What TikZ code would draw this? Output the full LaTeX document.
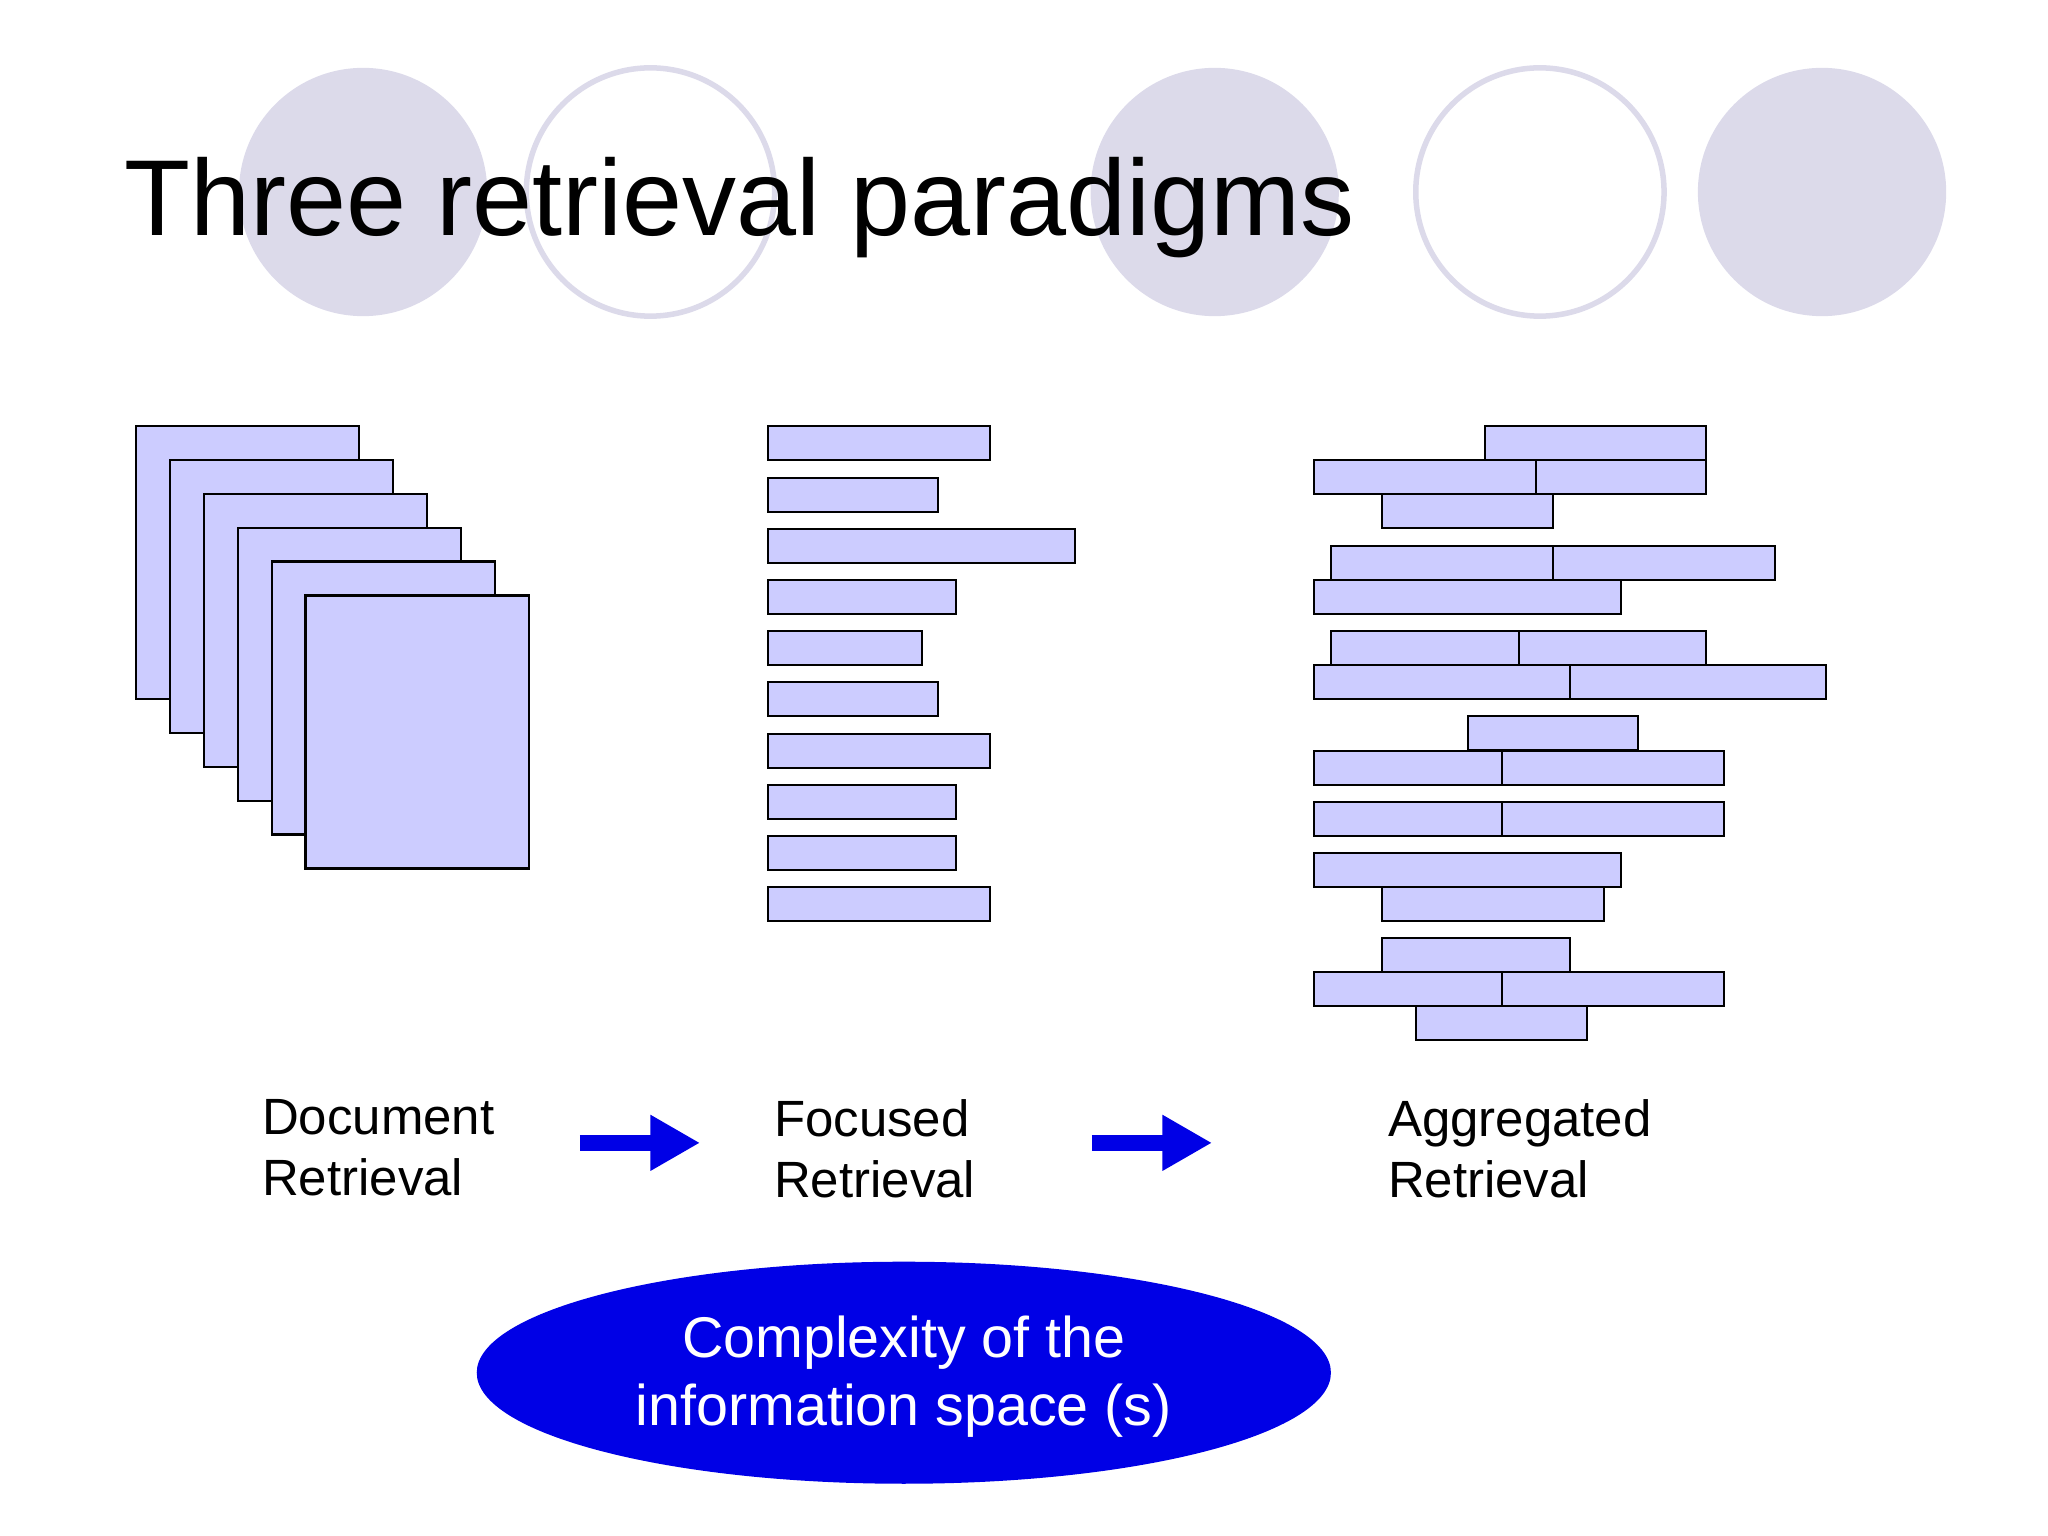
\documentclass[tikz,border=0pt]{standalone}
\usepackage{fontspec}
\setmainfont{Liberation Sans}
\usetikzlibrary{arrows.meta, positioning}
\definecolor{ringfill}{HTML}{DCDAEA}
\definecolor{barfill}{HTML}{CCCCFF}
\definecolor{deepblue}{HTML}{0000E6}

\begin{document}
\begin{tikzpicture}[
    x=0.01cm, y=-0.01cm,
    ring/.style={circle, minimum size=1.9cm, inner sep=0pt},
    fullring/.style={ring, fill=ringfill},
    openring/.style={ring, draw=ringfill, line width=1.2pt, fill=white},
    bar/.style={draw=black, fill=barfill, line width=0.5pt},
    label/.style={align=left, anchor=north west, font=\fontsize{11.1}{13.4}\selectfont, inner sep=0pt},
    flow/.style={draw=deepblue, line width=3.4pt, -{Triangle[length=10.8pt, width=11.4pt]}}
]
    \useasboundingbox (0,0) rectangle (1568,1176);

    % Header rings
    \node[fullring] (r1) at (278,147) {};
    \node[openring] (r2) at (498,147) {};
    \node[fullring] (r3) at (930,147) {};
    \node[openring] (r4) at (1179,147) {};
    \node[fullring] (r5) at (1395,147) {};

    % Title
    \node[anchor=base west, inner sep=0pt, font=\fontsize{23.5}{28}\selectfont] (title) at (95,180) {Three retrieval paradigms};

    % Document stack
    \foreach \i in {0,...,5}
        \draw[bar] (104+26*\i,326+26*\i) rectangle ++(171,209);

    % Focused bars
    \foreach \y/\r in {326/758,366/718,405/823,444/732,483/706,522/718,562/758,601/732,640/732,679/758}
        \draw[bar] (588,\y) rectangle (\r,\y+26);

    % Aggregated bars
    \foreach \l/\y/\r in {1137/326/1306,1006/352/1176,1176/352/1306,1058/378/1189,
        1019/418/1189,1189/418/1359,1006/444/1241,1019/483/1163,1163/483/1306,
        1006/509/1202,1202/509/1398,1124/548/1254,1006/575/1150,1150/575/1320,
        1006/614/1150,1150/614/1320,1006/653/1241,1058/679/1228,1058/718/1202,
        1006/744/1150,1150/744/1320,1084/770/1215}
        \draw[bar] (\l,\y) rectangle (\r,\y+26);

    % Labels
    \node[label] (doc) at (200,841) {Document\\Retrieval};
    \node[label] (foc) at (592,841) {Focused\\Retrieval};
    \node[label] (agg) at (1062,841) {Aggregated\\Retrieval};

    % Flow arrows
    \coordinate (a1s) at (444,875);
    \coordinate (a1e) at (536,875);
    \coordinate (a2s) at (836,875);
    \coordinate (a2e) at (928,875);
    \draw[flow] (a1s) -- (a1e);
    \draw[flow] (a2s) -- (a2e);

    % Complexity ellipse
    \draw[fill=deepblue, draw=none] (692,1051) ellipse [x radius=327, y radius=85];
    \node[text=white, align=center, font=\fontsize{12.5}{14.8}\selectfont] (space) at (692,1054) {Complexity of the\\information space (s)};
\end{tikzpicture}
\end{document}
